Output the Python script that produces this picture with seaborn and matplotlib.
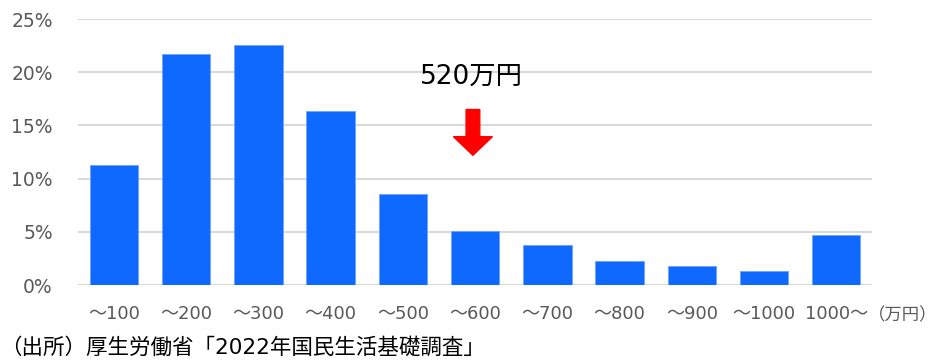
import matplotlib
matplotlib.use("Agg")
import matplotlib.pyplot as plt
import seaborn as sns
import pandas as pd
from matplotlib.ticker import FuncFormatter

# --- Data ---
categories = ["～100", "～200", "～300", "～400", "～500", "～600",
              "～700", "～800", "～900", "～1000", "1000～"]
shares = [11.3, 21.7, 22.6, 16.4, 8.6, 5.1, 3.8, 2.3, 1.8, 1.3, 4.7]
median_label = "520万円"
unit_label = "（万円）"
source_label = "（出所）厚生労働省「2022年国民生活基礎調査」"

BAR_COLOR = "#0f69ff"
TICK_COLOR = "#595959"
GRID_COLOR = "#d9d9d9"

sns.set_theme(style="white")
# Verdana-like latin first, CJK fallback
plt.rcParams["font.family"] = ["DejaVu Sans", "Noto Sans CJK JP"]

df = pd.DataFrame({"category": categories, "share": shares})

fig = plt.figure(figsize=(9.38, 3.6), dpi=100)
ax = fig.add_axes([0.083, 0.208, 0.847, 0.739])

sns.barplot(data=df, x="category", y="share", color=BAR_COLOR,
            width=0.67, saturation=1, edgecolor="#6fa3ff", linewidth=0.6,
            ax=ax, zorder=3)

ax.set_ylim(0, 25)
ax.set_xlim(-0.5, len(categories) - 0.5)
ax.set_yticks([0, 5, 10, 15, 20, 25])
ax.yaxis.set_major_formatter(FuncFormatter(lambda v, _: f"{v:.0f}%"))
ax.grid(axis="y", color=GRID_COLOR, linewidth=1.5, zorder=0)
ax.set_axisbelow(True)
for s in ax.spines.values():
    s.set_visible(False)
ax.set_xlabel("")
ax.set_ylabel("")
ax.tick_params(axis="y", length=0, pad=18, labelsize=13.5, labelcolor=TICK_COLOR)
ax.tick_params(axis="x", length=0, pad=14, labelsize=13, labelcolor=TICK_COLOR)

# median marker
ax.arrow(4.97, 16.5, 0, -4.3, width=0.19, head_width=0.54, head_length=1.75,
         length_includes_head=True, color="#ff0000", zorder=4)
ax.text(4.95, 19.6, median_label, ha="center", va="center",
        fontsize=19, color="black")

fig.text(0.9255, 0.125, unit_label, ha="left", va="center",
         fontsize=12.5, color=TICK_COLOR)
fig.text(0.0, 0.035, source_label, ha="left", va="center",
         fontsize=15.5, color="black")

fig.savefig("out.png", dpi=100)
